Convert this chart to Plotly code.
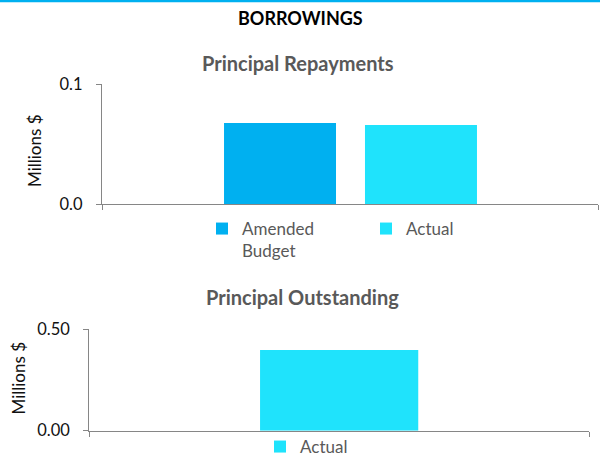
import plotly.graph_objects as go

# ---- data (millions of dollars) ----
repay_category = ["Principal Repayments"]
repay_series = ["Amended<br>Budget", "Actual"]
repay_values = [0.0677, 0.0660]

outstanding_category = ["Principal Outstanding"]
outstanding_series = ["Actual"]
outstanding_values = [0.398]

repay_ticks = [0.0, 0.1]
outstanding_ticks = [0.0, 0.5]

# ---- styling ----
FONT = "Lato"
BLUE = "#00B0F0"
CYAN = "#1FE3FC"
AXIS = "#868686"
GREY_TEXT = "#595959"
W, H = 600, 461

fig = go.Figure()

# Principal Repayments: two series side by side in one category
repay_colors = [BLUE, CYAN]
repay_offsets = [-0.254, 0.0302]
for name, val, col, off in zip(repay_series, repay_values, repay_colors, repay_offsets):
    fig.add_trace(go.Bar(
        x=repay_category, y=[val], name=name,
        marker=dict(color=col, line=dict(width=0)),
        width=0.2258, offset=off,
        xaxis="x", yaxis="y", legend="legend",
        hoverinfo="skip",
    ))

# Principal Outstanding: single series
fig.add_trace(go.Bar(
    x=outstanding_category, y=outstanding_values, name=outstanding_series[0],
    marker=dict(color=CYAN, line=dict(width=0)),
    width=0.3166,
    xaxis="x2", yaxis="y2", legend="legend2",
    hoverinfo="skip",
))


def px_x(p):
    return p / W


def px_y(p):
    return 1 - p / H


axis_common = dict(
    showline=True, linecolor=AXIS, linewidth=1.3,
    ticks="outside", ticklen=5, tickcolor=AXIS, tickwidth=1.3,
    showgrid=False, zeroline=False, fixedrange=True,
)

tick_font = dict(family=FONT, size=16.5, color="#111111")
title_font = dict(family=FONT, size=17, color="#111111")
legend_font = dict(family=FONT, size=17, color=GREY_TEXT)

fig.update_layout(
    width=W, height=H,
    margin=dict(l=0, r=0, t=0, b=0, autoexpand=False),
    paper_bgcolor="white", plot_bgcolor="white",
    barmode="overlay",
    font=dict(family=FONT),
    xaxis=dict(domain=[px_x(102), px_x(598)], anchor="y", type="category",
               tickson="boundaries", showticklabels=False, **axis_common),
    yaxis=dict(domain=[px_y(204), px_y(84.3)], anchor="x", range=[0, 0.1],
               tickvals=repay_ticks, tickformat=".1f", tickfont=tick_font,
               ticklabelstandoff=10, **axis_common),
    xaxis2=dict(domain=[px_x(89.3), px_x(589)], anchor="y2", type="category",
                tickson="boundaries", showticklabels=False, **axis_common),
    yaxis2=dict(domain=[px_y(430.7), px_y(329.3)], anchor="x2", range=[0, 0.5],
                tickvals=outstanding_ticks, tickformat=".2f", tickfont=tick_font,
                ticklabelstandoff=10, **axis_common),
    legend=dict(orientation="h", x=px_x(202), y=px_y(211), xanchor="left", yanchor="top",
                font=legend_font, entrywidth=119, valign="top",
                bgcolor="rgba(0,0,0,0)"),
    legend2=dict(orientation="h", x=px_x(260), y=px_y(429), xanchor="left", yanchor="top",
                 font=legend_font, bgcolor="rgba(0,0,0,0)"),
    showlegend=True,
)

# headings
fig.add_annotation(text="<b>BORROWINGS</b>", x=0.5, y=px_y(18), xref="paper", yref="paper",
                   showarrow=False, font=dict(family=FONT, size=18, color="#000000"),
                   xanchor="center", yanchor="middle")
fig.add_annotation(text="<b>Principal Repayments</b>", x=px_x(298), y=px_y(63),
                   xref="paper", yref="paper", showarrow=False,
                   font=dict(family=FONT, size=20, color=GREY_TEXT),
                   xanchor="center", yanchor="middle")
fig.add_annotation(text="<b>Principal Outstanding</b>", x=px_x(302), y=px_y(297),
                   xref="paper", yref="paper", showarrow=False,
                   font=dict(family=FONT, size=20, color=GREY_TEXT),
                   xanchor="center", yanchor="middle")

# value-axis titles
fig.add_annotation(text="Millions $", x=px_x(35), y=px_y(151), xref="paper", yref="paper",
                   showarrow=False, textangle=-90, font=title_font,
                   xanchor="center", yanchor="middle")
fig.add_annotation(text="Millions $", x=px_x(18), y=px_y(378.5), xref="paper", yref="paper",
                   showarrow=False, textangle=-90, font=title_font,
                   xanchor="center", yanchor="middle")

# blue rule across the top edge
fig.add_shape(type="rect", xref="paper", yref="paper", x0=0, x1=1, y0=px_y(2.3), y1=1,
              fillcolor=BLUE, line=dict(width=0), layer="above")

fig.write_html("out.html")
